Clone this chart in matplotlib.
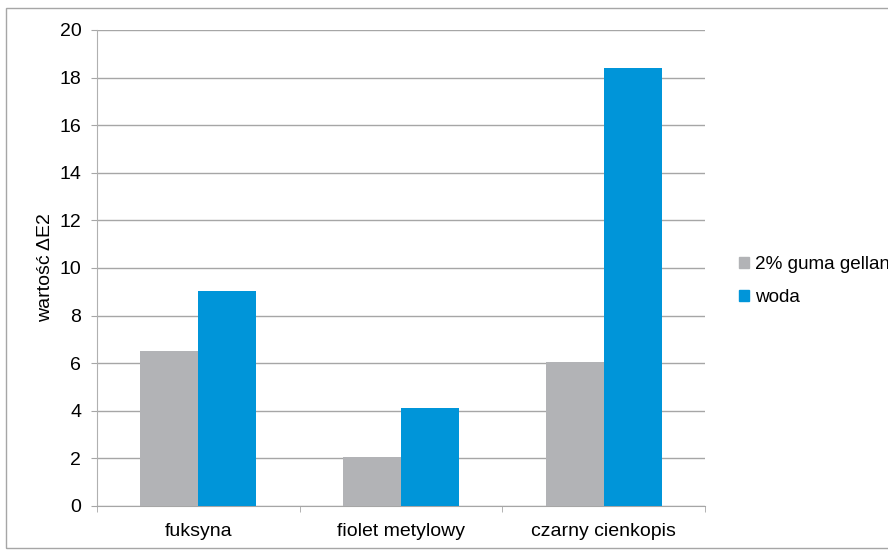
import matplotlib
matplotlib.use("Agg")
import matplotlib.pyplot as plt
import matplotlib.patches as mpatches
import numpy as np

plt.rcParams['font.family'] = ['Liberation Sans', 'DejaVu Sans']

categories = ["fuksyna", "fiolet metylowy", "czarny cienkopis"]
series_names = ["2% guma gellan", "woda"]
gellan = [6.5, 2.05, 6.05]
woda = [9.03, 4.1, 18.4]
colors = ["#b2b3b6", "#0095d9"]
yticks = [0, 2, 4, 6, 8, 10, 12, 14, 16, 18, 20]

fig = plt.figure(figsize=(8.88, 5.5), dpi=100)
ax = fig.add_axes([97/888, 44/550, 608/888, 476/550])

x = np.arange(len(categories))
w = 0.286
ax.bar(x - w/2, gellan, width=w, color=colors[0], label=series_names[0], zorder=3)
ax.bar(x + w/2, woda, width=w, color=colors[1], label=series_names[1], zorder=3)

ax.set_xlim(-0.5, 2.5)
ax.set_ylim(0, 20)
ax.set_yticks(yticks)
ax.set_yticklabels([str(t) for t in yticks], fontsize=14)
ax.yaxis.grid(True, color="#a6a6a6", linewidth=1.0, zorder=0)
ax.set_axisbelow(True)

ax.set_xticks(x)
ax.set_xticklabels(categories, fontsize=14)
ax.set_xticks([-0.5, 0.5, 1.5, 2.5], minor=True)
ax.tick_params(axis='x', which='major', length=0, pad=12)
ax.tick_params(axis='x', which='minor', length=4.3, color="#a6a6a6", direction='out')
ax.tick_params(axis='y', length=4.3, color="#a6a6a6", direction='out', pad=7)

for s in ["top", "right"]:
    ax.spines[s].set_visible(False)
ax.spines["left"].set_color("#b0b0b0")
ax.spines["bottom"].set_color("#a6a6a6")

ax.set_ylabel("wartość ΔE2", fontsize=14, labelpad=4)

handles = [mpatches.Patch(color=c, label=n) for c, n in zip(colors, series_names)]
fig.legend(handles=handles, loc="center left", bbox_to_anchor=(731/888, 1 - 281/550),
           frameon=False, fontsize=13.6, handlelength=0.55, handleheight=0.55,
           handletextpad=0.3, labelspacing=0.85, borderaxespad=0)

border = mpatches.Rectangle((6/888, 2/550), 1.0, 540/550, transform=fig.transFigure,
                            fill=False, edgecolor="#a6a6a6", linewidth=1.0, clip_on=False)
fig.add_artist(border)

fig.savefig("out.png", dpi=100)
